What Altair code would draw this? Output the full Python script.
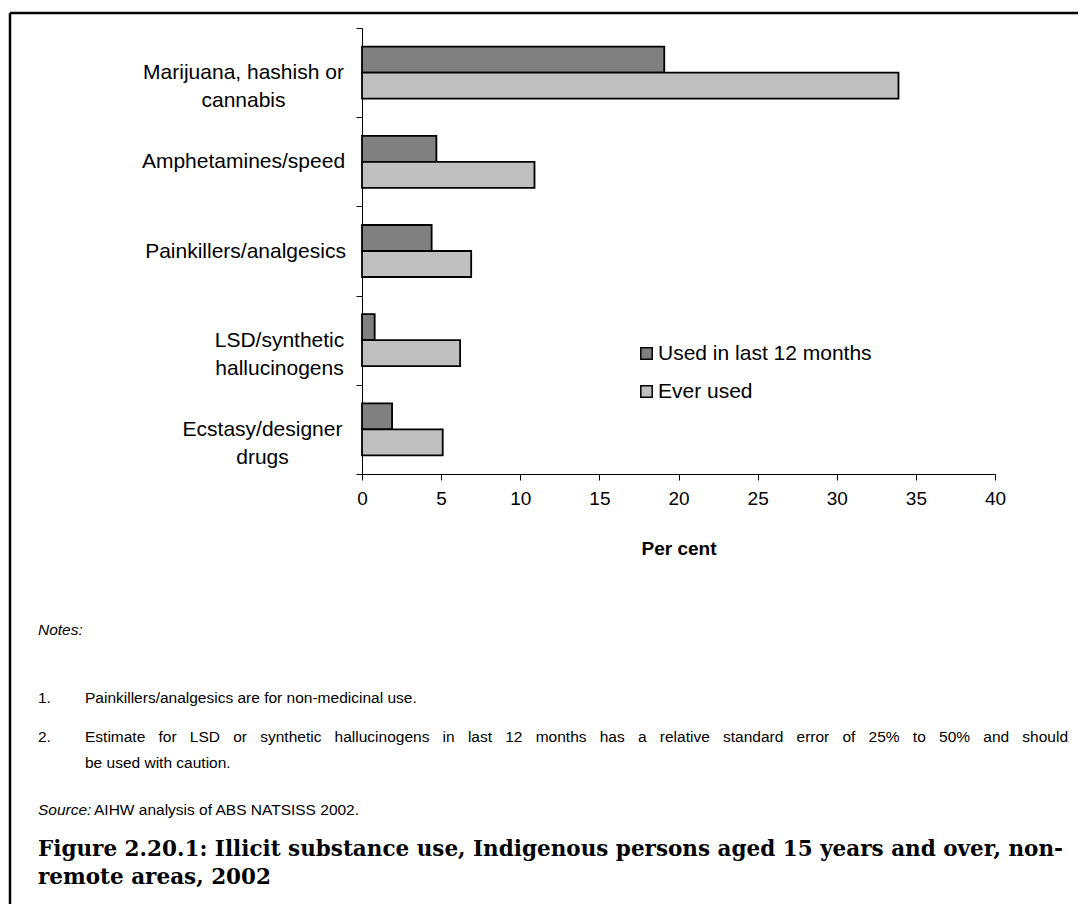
import json
import altair as alt
import pandas as pd

# ---------------- data ----------------
categories = [
    "Marijuana, hashish or cannabis",
    "Amphetamines/speed",
    "Painkillers/analgesics",
    "LSD/synthetic hallucinogens",
    "Ecstasy/designer drugs",
]
category_lines = [
    ["Marijuana, hashish or", "cannabis"],
    ["Amphetamines/speed"],
    ["Painkillers/analgesics"],
    ["LSD/synthetic", "hallucinogens"],
    ["Ecstasy/designer", "drugs"],
]
series = ["Used in last 12 months", "Ever used"]
used_12m = [19.1, 4.7, 4.4, 0.8, 1.9]
ever_used = [33.9, 10.9, 6.9, 6.2, 5.1]
x_ticks = [0, 5, 10, 15, 20, 25, 30, 35, 40]

notes_title = "Notes:"
note_1 = "Painkillers/analgesics are for non-medicinal use."
note_2a = "Estimate for LSD or synthetic hallucinogens in last 12 months has a relative standard error of 25% to 50% and should"
note_2b = "be used with caution."
source_label = "Source:"
source_text = "AIHW analysis of ABS NATSISS 2002."
fig_title_1 = "Figure 2.20.1: Illicit substance use, Indigenous persons aged 15 years and over, non-"
fig_title_2 = "remote areas, 2002"

rows = []
for c, a, b in zip(categories, used_12m, ever_used):
    rows.append({"cat": c, "series": series[0], "value": a})
    rows.append({"cat": c, "series": series[1], "value": b})
df = pd.DataFrame(rows)

# label expression producing multi-line labels
expr = "datum.label"
for c, lines in zip(categories, category_lines):
    expr = f"datum.label === {json.dumps(c)} ? {json.dumps(lines)} : ({expr})"

# per-label padding: each centred label block sits right-aligned next to the axis
pad_map = {
    categories[0]: 113,
    categories[1]: 113,
    categories[2]: 111,
    categories[3]: 77,
    categories[4]: 94,
}
label_padding = {
    "condition": [
        {"test": f"datum.value === {json.dumps(c)}", "value": v} for c, v in pad_map.items()
    ],
    "value": 110,
}

FONT = "Liberation Sans"
NOTE_SIZE = 15.5

bars = alt.Chart(df).mark_bar(stroke="black", strokeWidth=1.8).encode(
    y=alt.Y(
        "cat:N",
        sort=categories,
        scale=alt.Scale(paddingInner=0, paddingOuter=0),
        axis=alt.Axis(
            title=None,
            labelExpr=expr,
            labelAlign="center",
            labelPadding=label_padding,
            labelFont=FONT,
            labelFontSize=21,
            labelColor="black",
            labelLineHeight=28,
            labelLimit=500,
            tickBand="extent",
            tickSize=6,
            tickColor="black",
            domainColor="black",
            grid=False,
        ),
    ),
    yOffset=alt.YOffset(
        "series:N", sort=series, scale=alt.Scale(paddingInner=0, paddingOuter=0.715)
    ),
    x=alt.X(
        "value:Q",
        scale=alt.Scale(domain=[0, 40], nice=False),
        axis=alt.Axis(
            values=x_ticks,
            title="Per cent",
            titleFont=FONT,
            titleFontSize=19,
            titleFontWeight="bold",
            titleColor="black",
            titlePadding=31,
            labelFont=FONT,
            labelFontSize=19,
            labelColor="black",
            labelPadding=9,
            labelFlush=False,
            tickSize=6,
            tickColor="black",
            domainColor="black",
            grid=False,
        ),
    ),
    color=alt.Color(
        "series:N",
        sort=series,
        scale=alt.Scale(domain=series, range=["#808080", "#C0C0C0"]),
        legend=alt.Legend(
            title=None,
            orient="none",
            legendX=274,
            legendY=315,
            symbolType="square",
            symbolSize=130,
            symbolStrokeColor="black",
            symbolStrokeWidth=1.5,
            labelFont=FONT,
            labelFontSize=21,
            labelColor="black",
            labelOffset=1,
            rowPadding=16,
            padding=0,
            labelLimit=500,
        ),
    ),
)

dummy = pd.DataFrame({"d": [0]})


def txt(s, x, y, size=NOTE_SIZE, style="normal", weight="normal", font=FONT):
    return alt.Chart(dummy).mark_text(
        text=s, align="left", baseline="middle", font=font, fontSize=size,
        fontStyle=style, fontWeight=weight, color="black",
    ).encode(x=alt.value(x), y=alt.value(y))


# justified line for note 2 (word positions derived from Arial/Liberation Sans metrics)
ARIAL_W = {
    " ": 278, "E": 667, "L": 556, "S": 667, "D": 722, "%": 889, ".": 278,
    "s": 500, "t": 278, "i": 222, "m": 833, "a": 556, "e": 556, "f": 278,
    "o": 556, "r": 333, "y": 500, "n": 556, "h": 556, "c": 500, "l": 222,
    "u": 556, "g": 556, "v": 500, "d": 556, "b": 556, "w": 722,
}


def text_width(s, size):
    return sum(ARIAL_W.get(ch, 556) for ch in s) / 1000.0 * size


line_start, line_end = -277, 706
words = note_2a.split(" ")
natural = sum(text_width(w, NOTE_SIZE) for w in words)
gap = (line_end - line_start - natural) / (len(words) - 1)
word_x = []
cur = line_start
for w in words:
    word_x.append(cur)
    cur += text_width(w, NOTE_SIZE) + gap
words_df = pd.DataFrame({"word": words, "px": word_x})
justified = alt.Chart(words_df).mark_text(
    align="left", baseline="middle", font=FONT, fontSize=NOTE_SIZE, color="black"
).encode(x=alt.X("px:Q", scale=None), y=alt.value(709), text="word:N")

TITLE_FONT = "DejaVu Serif"
TITLE_SIZE = 21.5

texts = [
    txt(notes_title, -324, 602, style="italic"),
    txt("1.", -324, 670),
    txt(note_1, -277, 670),
    txt("2.", -324, 709),
    justified,
    txt(note_2b, -277, 735),
    txt(source_label, -324, 782, style="italic"),
    txt(source_text, -268, 782),
    txt(fig_title_1, -324, 822, size=TITLE_SIZE, weight="bold", font=TITLE_FONT),
    txt(fig_title_2, -324, 850, size=TITLE_SIZE, weight="bold", font=TITLE_FONT),
]

top_border = alt.Chart(dummy).mark_rule(color="black", strokeWidth=2.5).encode(
    x=alt.value(-352), x2=alt.value(716), y=alt.value(-15)
)
left_border = alt.Chart(dummy).mark_rule(color="black", strokeWidth=2.5).encode(
    x=alt.value(-352), y=alt.value(-15), y2=alt.value(880)
)

chart = alt.layer(bars, top_border, left_border, *texts).properties(
    width=633,
    height=446,
    padding={"left": 354, "top": 20, "right": 83, "bottom": 430},
    autosize=alt.AutoSizeParams(type="none"),
    background="white",
).configure_view(stroke=None)

chart.save("out.html", embed_options={"renderer": "svg", "actions": False})
